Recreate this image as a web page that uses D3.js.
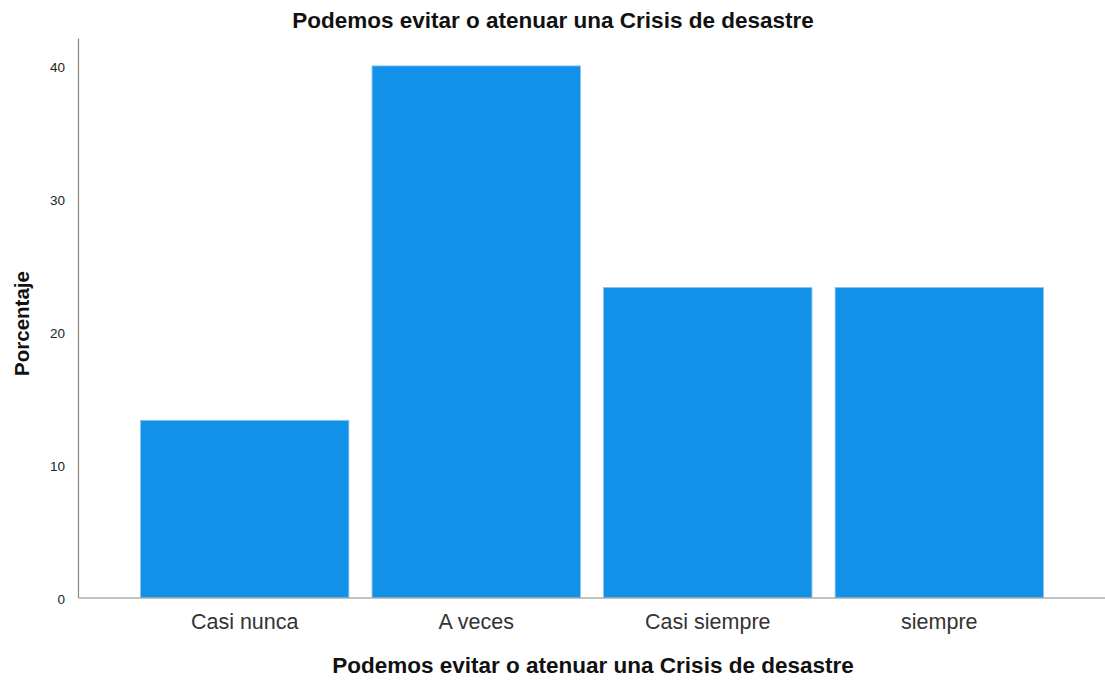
<!DOCTYPE html>
<html><head><meta charset="utf-8">
<script src="https://cdn.jsdelivr.net/npm/d3@7"></script>
<style>body{margin:0;background:#fff}svg{display:block}</style>
</head><body>
<svg id="c" width="1105" height="682"></svg>
<script>
const categories = ["Casi nunca", "A veces", "Casi siempre", "siempre"];
const values = [13.33, 40.0, 23.33, 23.33];
const yTicks = [0, 10, 20, 30, 40];
const titleText = "Podemos evitar o atenuar una Crisis de desastre";
const xTitle = "Podemos evitar o atenuar una Crisis de desastre";
const yTitle = "Porcentaje";

const svg = d3.select("#c");
const font = "'Liberation Sans', Arial, sans-serif";
const m = {left: 78, right: 1106, top: 38, bottom: 597.5};

const x = d3.scaleBand().domain(categories).range([m.left, m.right]).paddingInner(0.1).paddingOuter(0.27);
const y = d3.scaleLinear().domain([0, 42.1]).range([m.bottom, m.top]);

svg.append("g").selectAll("rect").data(values).join("rect")
  .attr("x", (d, i) => x(categories[i]))
  .attr("y", d => y(d))
  .attr("width", x.bandwidth())
  .attr("height", d => y(0) - y(d))
  .attr("fill", "#1192e8")
  .attr("stroke", "#8cc4f0").attr("stroke-width", 0.8);

const ya = svg.append("g").attr("transform", `translate(${m.left},0)`)
  .call(d3.axisLeft(y).tickValues(yTicks).tickSize(0).tickPadding(13).tickFormat(d3.format("d")));
ya.select(".domain").attr("stroke", "#888").attr("stroke-width", 1.2);
ya.selectAll("text").attr("font-family", font).attr("font-size", 13.5).attr("fill", "#222").attr("dy", "0.45em");

const xa = svg.append("g").attr("transform", `translate(0,${m.bottom})`)
  .call(d3.axisBottom(x).tickSize(0).tickPadding(16));
xa.select(".domain").attr("stroke", "#888").attr("stroke-width", 1.2);
xa.selectAll("text").attr("font-family", font).attr("font-size", 21.5).attr("fill", "#333");

svg.append("text").attr("x", 553).attr("y", 28).attr("text-anchor", "middle")
  .attr("font-family", font).attr("font-weight", "bold").attr("font-size", 22.5).attr("fill", "#111").text(titleText);
svg.append("text").attr("x", 593).attr("y", 673).attr("text-anchor", "middle")
  .attr("font-family", font).attr("font-weight", "bold").attr("font-size", 22.5).attr("fill", "#111").text(xTitle);
svg.append("text").attr("transform", "translate(29,323.5) rotate(-90)").attr("text-anchor", "middle")
  .attr("font-family", font).attr("font-weight", "bold").attr("font-size", 20.5).attr("fill", "#111").text(yTitle);
</script>
</body></html>
